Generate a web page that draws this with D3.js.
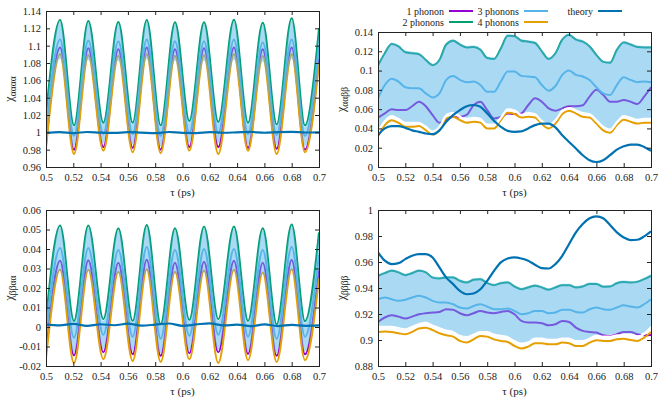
<!DOCTYPE html>
<html>
<head>
<meta charset="utf-8">
<script src="https://cdn.jsdelivr.net/npm/d3@7"></script>
<style>
  body { margin: 0; background: #fff; }
</style>
</head>
<body>
<svg id="chart" width="664" height="399" style="font-family: 'Liberation Serif', 'DejaVu Serif', serif"></svg>
<script>
// ---- data ----
const tauTicks = [0.5, 0.52, 0.54, 0.56, 0.58, 0.6, 0.62, 0.64, 0.66, 0.68, 0.7];
const yTicksTL = [0.96, 0.98, 1, 1.02, 1.04, 1.06, 1.08, 1.1, 1.12, 1.14];
const yTicksTR = [0, 0.02, 0.04, 0.06, 0.08, 0.1, 0.12, 0.14];
const yTicksBL = [-0.02, -0.01, 0, 0.01, 0.02, 0.03, 0.04, 0.05, 0.06];
const yTicksBR = [0.88, 0.9, 0.92, 0.94, 0.96, 0.98, 1];

// oscillating panels: sampled at start, peaks/troughs, end
const tauOsc = [0.5, 0.5103, 0.5205, 0.531, 0.542, 0.553, 0.5635, 0.5738, 0.584, 0.5945,
  0.605, 0.6158, 0.6262, 0.6377, 0.648, 0.6588, 0.669, 0.68, 0.6897, 0.7];
const tauCoarse = [0.5, 0.51, 0.52, 0.53, 0.54, 0.55, 0.56, 0.57, 0.58, 0.59, 0.6,
  0.61, 0.62, 0.63, 0.64, 0.65, 0.66, 0.67, 0.68, 0.69, 0.7];
const tauFine = [0.5, 0.505, 0.51, 0.515, 0.52, 0.525, 0.53, 0.535, 0.54, 0.545, 0.55,
  0.555, 0.56, 0.565, 0.57, 0.575, 0.58, 0.585, 0.59, 0.595, 0.6, 0.605, 0.61, 0.615,
  0.62, 0.625, 0.63, 0.635, 0.64, 0.645, 0.65, 0.655, 0.66, 0.665, 0.67, 0.675, 0.68,
  0.685, 0.69, 0.695, 0.7];

// chi_aaaa
const tlOne = [0.986, 1.098, 0.980, 1.097, 0.983, 1.096, 0.982, 1.098, 0.980, 1.096, 0.983, 1.097, 0.983, 1.098, 0.982, 1.096, 0.981, 1.098, 0.980, 1.085];
const tlTwo = [1.020, 1.1296, 1.008, 1.1284, 1.011, 1.1273, 1.011, 1.1296, 1.008, 1.127, 1.013, 1.127, 1.012, 1.130, 1.011, 1.1265, 1.009, 1.1315, 1.008, 1.120];
const tlThree = [0.999, 1.107, 0.996, 1.106, 0.998, 1.105, 0.998, 1.107, 0.996, 1.105, 0.999, 1.105, 0.999, 1.107, 0.998, 1.104, 0.997, 1.107, 0.996, 1.100];
const tlFour = [0.982, 1.090, 0.975, 1.089, 0.979, 1.088, 0.977, 1.090, 0.976, 1.088, 0.979, 1.089, 0.975, 1.090, 0.979, 1.088, 0.975, 1.090, 0.977, 1.080];
const tlBandLow = [0.990, 1.085, 0.984, 1.084, 0.987, 1.083, 0.986, 1.085, 0.984, 1.083, 0.988, 1.083, 0.987, 1.084, 0.986, 1.082, 0.985, 1.085, 0.984, 1.079];
const tlTheory = [0.9995, 1.0003, 0.9992, 1.0004, 0.9996, 0.9993, 1.0002, 0.9996, 0.9990, 1.0004, 0.9993, 0.9992, 1.0003, 0.9995, 1.0000, 1.0005, 0.9995, 1.0002, 1.0005, 0.9998, 1.0000];

// chi_bbaa
const blOne = [-0.013, 0.034, -0.0145, 0.0342, -0.013, 0.033, -0.014, 0.0345, -0.0148, 0.033, -0.0135, 0.0335, -0.013, 0.034, -0.0138, 0.033, -0.0148, 0.0343, -0.014, 0.029];
const blTwo = [0.004, 0.052, 0.0031, 0.052, 0.004, 0.0507, 0.0031, 0.0523, 0.0014, 0.0507, 0.0036, 0.0516, 0.004, 0.0516, 0.0031, 0.0506, 0.0014, 0.0526, 0.003, 0.0485];
const blThree = [-0.004, 0.0405, -0.0055, 0.0405, -0.004, 0.0395, -0.005, 0.041, -0.006, 0.0395, -0.0045, 0.040, -0.004, 0.040, -0.005, 0.0395, -0.006, 0.041, -0.005, 0.037];
const blFour = [-0.016, 0.0293, -0.0185, 0.0293, -0.0165, 0.0283, -0.0175, 0.0296, -0.018, 0.0283, -0.0165, 0.029, -0.0185, 0.0293, -0.017, 0.028, -0.018, 0.0296, -0.017, 0.025];
const blBandLow = [-0.011, 0.029, -0.013, 0.029, -0.0115, 0.028, -0.0125, 0.0293, -0.0135, 0.028, -0.012, 0.0285, -0.012, 0.029, -0.0125, 0.028, -0.0135, 0.0293, -0.0125, 0.026];
const blTheory = [0.0012, 0.0008, 0.0016, 0.0006, 0.0014, 0.0009, 0.0017, 0.0007, 0.0012, 0.0018, 0.0006, 0.0013, 0.0019, 0.0008, 0.0012, 0.0004, 0.0013, 0.0005, 0.0011, 0.0006, 0.0008];

// chi_aabb
const trOne = [0.051, 0.0556, 0.0598, 0.059, 0.059, 0.063, 0.0677, 0.063, 0.0538, 0.0459, 0.0486, 0.052, 0.052, 0.054, 0.064, 0.0677, 0.059, 0.0504, 0.052, 0.0556, 0.0549, 0.0556, 0.064, 0.0712, 0.0677, 0.0608, 0.0584, 0.0608, 0.063, 0.063, 0.064, 0.073, 0.080, 0.0747, 0.0677, 0.0677, 0.0695, 0.0677, 0.0653, 0.073, 0.0827];
const trTwo = [0.1053, 0.118, 0.1275, 0.125, 0.119, 0.118, 0.117, 0.111, 0.1056, 0.111, 0.127, 0.131, 0.127, 0.124, 0.1245, 0.1216, 0.113, 0.112, 0.123, 0.136, 0.1355, 0.131, 0.130, 0.1286, 0.120, 0.112, 0.118, 0.132, 0.137, 0.132, 0.130, 0.125, 0.116, 0.109, 0.108, 0.1215, 0.129, 0.127, 0.1245, 0.124, 0.124];
const trThree = [0.0712, 0.085, 0.0914, 0.0886, 0.0827, 0.0816, 0.0816, 0.0764, 0.0722, 0.0764, 0.0903, 0.0945, 0.0903, 0.0879, 0.0886, 0.0851, 0.078, 0.078, 0.0886, 0.099, 0.099, 0.0945, 0.0938, 0.0931, 0.0851, 0.0792, 0.084, 0.0955, 0.100, 0.0955, 0.0938, 0.0903, 0.0827, 0.0764, 0.0747, 0.085, 0.093, 0.0903, 0.088, 0.0886, 0.088];
const trFour = [0.032, 0.0434, 0.0486, 0.0459, 0.0417, 0.0417, 0.0424, 0.0382, 0.0337, 0.038, 0.0504, 0.052, 0.0486, 0.046, 0.047, 0.046, 0.040, 0.040, 0.0486, 0.0563, 0.055, 0.0514, 0.052, 0.0514, 0.0445, 0.040, 0.045, 0.055, 0.0584, 0.0556, 0.052, 0.0514, 0.045, 0.038, 0.0354, 0.0434, 0.049, 0.047, 0.045, 0.046, 0.046];
const trBandLow = [0.038, 0.049, 0.054, 0.051, 0.047, 0.047, 0.047, 0.043, 0.038, 0.043, 0.055, 0.057, 0.054, 0.051, 0.052, 0.051, 0.045, 0.045, 0.053, 0.061, 0.060, 0.056, 0.057, 0.056, 0.049, 0.045, 0.050, 0.060, 0.063, 0.060, 0.057, 0.056, 0.050, 0.043, 0.040, 0.048, 0.054, 0.052, 0.050, 0.051, 0.051];
const trTheory = [0.033, 0.040, 0.0424, 0.0424, 0.0406, 0.038, 0.0365, 0.0347, 0.034, 0.038, 0.047, 0.0538, 0.059, 0.063, 0.0643, 0.0625, 0.0556, 0.048, 0.0417, 0.0375, 0.0365, 0.037, 0.040, 0.0434, 0.045, 0.045, 0.041, 0.033, 0.026, 0.0191, 0.0122, 0.007, 0.0052, 0.007, 0.0122, 0.018, 0.0215, 0.0233, 0.0233, 0.0208, 0.0167];

// chi_bbbb
const brOne = [0.9139, 0.9173, 0.919, 0.918, 0.9165, 0.918, 0.9198, 0.9206, 0.9211, 0.9216, 0.9237, 0.9232, 0.9206, 0.919, 0.9206, 0.9224, 0.9211, 0.9206, 0.9216, 0.9224, 0.9198, 0.9147, 0.9134, 0.9134, 0.9129, 0.9113, 0.9121, 0.9147, 0.9139, 0.9095, 0.907, 0.9062, 0.9057, 0.9036, 0.9031, 0.9044, 0.9062, 0.9062, 0.9044, 0.9036, 0.9039];
const brTwo = [0.9494, 0.9514, 0.9532, 0.952, 0.9499, 0.9514, 0.9532, 0.952, 0.948, 0.9473, 0.948, 0.948, 0.9455, 0.9442, 0.9463, 0.9468, 0.9437, 0.9422, 0.9437, 0.9442, 0.9411, 0.939, 0.9404, 0.9417, 0.9404, 0.9386, 0.9404, 0.9422, 0.9422, 0.9404, 0.9411, 0.943, 0.943, 0.9409, 0.9411, 0.9437, 0.9447, 0.9442, 0.9447, 0.9468, 0.9494];
const brThree = [0.9314, 0.9327, 0.9314, 0.9301, 0.9309, 0.9327, 0.934, 0.9327, 0.9301, 0.9288, 0.9288, 0.9275, 0.925, 0.9242, 0.9262, 0.9275, 0.9257, 0.9237, 0.9237, 0.9242, 0.9224, 0.9198, 0.9206, 0.9224, 0.9224, 0.9206, 0.9211, 0.9232, 0.9232, 0.9216, 0.9211, 0.9237, 0.925, 0.9237, 0.9232, 0.925, 0.9268, 0.9257, 0.925, 0.9275, 0.9314];
const brFour = [0.9062, 0.9065, 0.9062, 0.9052, 0.9044, 0.9062, 0.9088, 0.9095, 0.9077, 0.9052, 0.9036, 0.9026, 0.8993, 0.898, 0.9005, 0.9031, 0.9026, 0.9005, 0.8993, 0.8985, 0.8954, 0.8934, 0.8949, 0.8975, 0.8975, 0.8967, 0.8967, 0.898, 0.8975, 0.8954, 0.8954, 0.898, 0.8998, 0.8993, 0.8993, 0.9005, 0.901, 0.9, 0.8993, 0.9018, 0.9062];
const brBandLow = [0.911, 0.911, 0.911, 0.910, 0.909, 0.911, 0.913, 0.914, 0.912, 0.910, 0.908, 0.907, 0.904, 0.903, 0.905, 0.907, 0.907, 0.905, 0.904, 0.903, 0.900, 0.898, 0.899, 0.902, 0.902, 0.901, 0.901, 0.902, 0.902, 0.900, 0.900, 0.902, 0.904, 0.904, 0.904, 0.905, 0.905, 0.905, 0.904, 0.906, 0.911];
const brTheory = [0.9674, 0.961, 0.9584, 0.9591, 0.9622, 0.9648, 0.966, 0.966, 0.9635, 0.9558, 0.948, 0.943, 0.9378, 0.9352, 0.9358, 0.939, 0.9455, 0.9532, 0.9597, 0.9627, 0.9635, 0.9627, 0.961, 0.9579, 0.9553, 0.955, 0.9584, 0.9648, 0.9738, 0.9828, 0.9892, 0.9936, 0.9951, 0.9936, 0.9884, 0.9828, 0.9789, 0.9769, 0.9771, 0.9797, 0.9836];

const seriesNames = ["1 phonon", "2 phonons", "3 phonons", "4 phonons", "theory"];
const colors = ["#9400d3", "#009e73", "#56b4e9", "#e69f00", "#0072b2"];
const serif = "'Liberation Serif', 'DejaVu Serif', serif";

// ---- layout ----
const panels = [
  { box: [46, 319, 11, 167], ydom: [0.96, 1.14], yticks: yTicksTL, sub: "αααα",
    tau: tauOsc, lines: [tlOne, tlTwo, tlThree, tlFour], low: tlBandLow,
    thTau: tauCoarse, theory: tlTheory, edge: false, topShift: 1.8 },
  { box: [378, 651, 32, 167], ydom: [0, 0.14], yticks: yTicksTR, sub: "ααββ",
    tau: tauFine, lines: [trOne, trTwo, trThree, trFour], low: trBandLow,
    thTau: tauFine, theory: trTheory, edge: true, topShift: -1.5 },
  { box: [46, 319, 210, 366], ydom: [-0.02, 0.06], yticks: yTicksBL, sub: "ββαα",
    tau: tauOsc, lines: [blOne, blTwo, blThree, blFour], low: blBandLow,
    thTau: tauCoarse, theory: blTheory, edge: false, topShift: 1.8 },
  { box: [378, 651, 210, 366], ydom: [0.88, 1], yticks: yTicksBR, sub: "ββββ",
    tau: tauFine, lines: [brOne, brTwo, brThree, brFour], low: brBandLow,
    thTau: tauFine, theory: brTheory, edge: true, topShift: -1.5 }
];

const svg = d3.select("#chart");
const fmt = d => String(+d.toFixed(4));

panels.forEach(function (p, k) {
  const [x0, x1, y0, y1] = p.box;
  const x = d3.scaleLinear().domain([0.5, 0.7]).range([x0, x1]);
  const y = d3.scaleLinear().domain(p.ydom).range([y1, y0]);

  const clipId = "clip" + k;
  svg.append("clipPath").attr("id", clipId)
    .append("rect").attr("x", x0).attr("y", y0).attr("width", x1 - x0).attr("height", y1 - y0);
  const g = svg.append("g").attr("clip-path", "url(#" + clipId + ")");

  // phonon curves
  p.lines.forEach(function (vals, s) {
    const line = d3.line()
      .x((d, i) => x(p.tau[i]))
      .y(d => y(d))
      .curve(d3.curveMonotoneX);
    g.append("path").attr("d", line(vals))
      .attr("fill", "none").attr("stroke", colors[s]).attr("stroke-width", 2);
  });

  // uncertainty band, drawn translucent over the curves
  const area = d3.area()
    .x((d, i) => x(p.tau[i]))
    .y0((d, i) => y(p.low[i]))
    .y1(d => y(d) + p.topShift)
    .curve(d3.curveMonotoneX);
  g.append("path").attr("d", area(p.lines[1]))
    .attr("fill", "#56b4e9").attr("fill-opacity", 0.5);

  if (p.edge) {
    const edge = d3.line()
      .x((d, i) => x(p.tau[i]))
      .y(d => y(d) + 1.8)
      .curve(d3.curveMonotoneX);
    g.append("path").attr("d", edge(p.low))
      .attr("fill", "none").attr("stroke", "#fff").attr("stroke-width", 2.2);
  }

  // theory
  const thLine = d3.line()
    .x((d, i) => x(p.thTau[i]))
    .y(d => y(d))
    .curve(d3.curveMonotoneX);
  g.append("path").attr("d", thLine(p.theory))
    .attr("fill", "none").attr("stroke", colors[4]).attr("stroke-width", 2.2);

  // axes (inward, mirrored ticks)
  const ax = svg.append("g");
  ax.append("g").attr("transform", "translate(0," + y1 + ")")
    .call(d3.axisBottom(x).tickValues(tauTicks).tickFormat(fmt).tickSize(-4).tickPadding(7));
  ax.append("g").attr("transform", "translate(0," + y0 + ")")
    .call(d3.axisTop(x).tickValues(tauTicks).tickFormat("").tickSize(-4));
  ax.append("g").attr("transform", "translate(" + x0 + ",0)")
    .call(d3.axisLeft(y).tickValues(p.yticks).tickFormat(fmt).tickSize(-4).tickPadding(5));
  ax.append("g").attr("transform", "translate(" + x1 + ",0)")
    .call(d3.axisRight(y).tickValues(p.yticks).tickFormat("").tickSize(-4));
  ax.selectAll("g").attr("font-size", 10.5);
  ax.selectAll(".domain").remove();
  ax.selectAll(".tick line").attr("stroke", "#222");
  ax.selectAll(".tick text").style("font-family", serif).attr("fill", "#222");

  svg.append("rect").attr("x", x0 + 0.5).attr("y", y0 + 0.5)
    .attr("width", x1 - x0).attr("height", y1 - y0)
    .attr("fill", "none").attr("stroke", "#222").attr("stroke-width", 1);

  // axis titles
  svg.append("text").attr("x", (x0 + x1) / 2).attr("y", y1 + 29)
    .attr("text-anchor", "middle").attr("font-size", 11).attr("fill", "#222")
    .style("font-family", serif).text("τ (ps)");
  const yl = svg.append("text")
    .attr("transform", "translate(" + (x0 - 33) + "," + ((y0 + y1) / 2) + ") rotate(-90)")
    .attr("text-anchor", "middle").attr("font-size", 12).attr("fill", "#222")
    .style("font-family", serif);
  yl.append("tspan").text("χ");
  yl.append("tspan").attr("font-size", 9.5).attr("dy", 3).text(p.sub);
});

// legend
const legendPos = [[444, 11], [444, 22], [519, 11], [519, 22], [593, 11]];
seriesNames.forEach(function (name, s) {
  const [tx, ty] = legendPos[s];
  svg.append("text").attr("x", tx).attr("y", ty).attr("dy", "0.35em")
    .attr("text-anchor", "end").attr("font-size", 10).attr("fill", "#222")
    .style("font-family", serif).text(name);
  svg.append("line").attr("x1", tx + 5).attr("x2", tx + 29).attr("y1", ty).attr("y2", ty)
    .attr("stroke", colors[s]).attr("stroke-width", 2);
});
</script>
</body>
</html>
